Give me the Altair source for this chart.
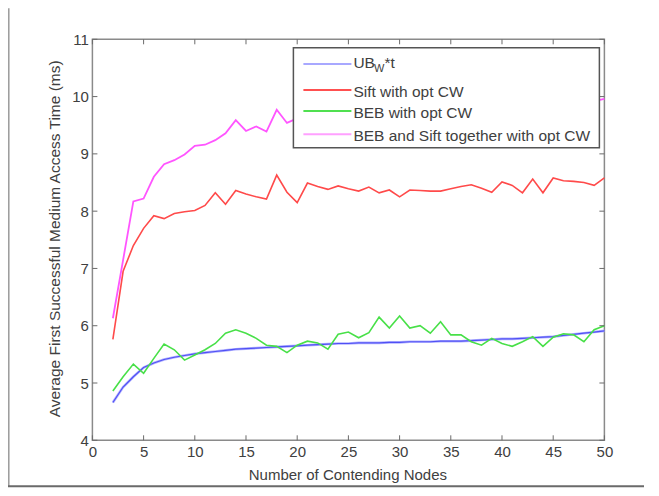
import altair as alt
import pandas as pd

# ---------------- data ----------------
nodes = list(range(2, 51))

ub_wt = [4.66, 4.93, 5.11, 5.27, 5.35, 5.41, 5.45, 5.48, 5.51, 5.53,
         5.55, 5.57, 5.59, 5.60, 5.61, 5.62, 5.63, 5.64, 5.65, 5.66,
         5.67, 5.68, 5.69, 5.69, 5.70, 5.70, 5.70, 5.71, 5.71, 5.72,
         5.72, 5.72, 5.73, 5.73, 5.73, 5.74, 5.75, 5.76, 5.77, 5.77,
         5.78, 5.79, 5.80, 5.81, 5.83, 5.85, 5.87, 5.89, 5.91]

sift = [5.76, 6.95, 7.40, 7.70, 7.92, 7.87, 7.96, 7.99, 8.01, 8.10,
        8.32, 8.12, 8.36, 8.30, 8.25, 8.21, 8.63, 8.33, 8.15, 8.49,
        8.43, 8.38, 8.44, 8.39, 8.35, 8.42, 8.32, 8.37, 8.25, 8.37,
        8.36, 8.35, 8.35, 8.39, 8.43, 8.46, 8.40, 8.33, 8.51, 8.45,
        8.32, 8.56, 8.32, 8.58, 8.53, 8.52, 8.50, 8.45, 8.58]

beb = [4.86, 5.11, 5.33, 5.17, 5.43, 5.68, 5.58, 5.40, 5.49, 5.58,
       5.69, 5.87, 5.93, 5.87, 5.78, 5.66, 5.64, 5.53, 5.66, 5.73,
       5.70, 5.59, 5.85, 5.89, 5.79, 5.88, 6.15, 5.96, 6.17, 5.96,
       6.00, 5.87, 6.07, 5.84, 5.84, 5.72, 5.66, 5.78, 5.69, 5.64,
       5.72, 5.81, 5.64, 5.80, 5.86, 5.84, 5.72, 5.93, 6.00]

beb_sift = [6.13, 7.15, 8.17, 8.22, 8.60, 8.82, 8.89, 8.99, 9.14, 9.16,
            9.24, 9.36, 9.59, 9.40, 9.48, 9.39, 9.77, 9.54, 9.62, 9.68,
            9.60, 9.72, 9.65, 9.70, 9.75, 9.68, 9.80, 9.72, 9.78, 9.70,
            9.82, 9.75, 9.80, 9.85, 9.78, 9.82, 9.88, 9.80, 9.85, 9.90,
            9.83, 9.88, 9.92, 9.85, 9.90, 9.93, 9.88, 9.92, 9.96]

x_ticks = list(range(0, 51, 5))
y_ticks = list(range(4, 12))

legend_labels = ["Sift with opt CW", "BEB with opt CW",
                 "BEB and Sift together with opt CW"]

# ---------------- styling ----------------
W, H = 512, 401
FONT = "Liberation Sans"
TXT = "#404040"
TICK = "#6a6a6a"

xs = alt.Scale(domain=[0, 50], nice=False, zero=False)
ys = alt.Scale(domain=[4, 11], nice=False, zero=False)
one = pd.DataFrame({"a": [0]})

x_axis = alt.Axis(values=x_ticks, title="Number of Contending Nodes",
                  labelPadding=4, titleX=255, titleY=39.5,
                  titleBaseline="alphabetic", titleAlign="center")
y_axis = alt.Axis(values=y_ticks,
                  title="Average First Successful Medium Access Time (ms)",
                  labelPadding=4, titleX=-38, titleY=199,
                  titleAngle=270, titleBaseline="middle",
                  titleAlign="center", titleFontSize=15.5)


def X():
    return alt.X("nodes:Q", scale=xs, axis=x_axis)


def Y():
    return alt.Y("value:Q", scale=ys, axis=y_axis)


def sdf(vals):
    return pd.DataFrame({"nodes": nodes, "value": vals})


def line_layer(vals, color, width):
    return alt.Chart(sdf(vals)).mark_line(color=color, strokeWidth=width).encode(x=X(), y=Y())


layers = []
# UB_W*t : light halo + darker core
layers.append(line_layer(ub_wt, "#b4b4ff", 2.6))
layers.append(line_layer(ub_wt, "#5050f5", 1.2))
layers.append(line_layer(sift, "#ff4a4a", 1.6))
layers.append(line_layer(beb, "#48e048", 1.6))
layers.append(line_layer(beb_sift, "#ff55ff", 1.8))

# inward ticks (MATLAB style) on all four sides
xt = pd.DataFrame({"nodes": x_ticks})
yt = pd.DataFrame({"value": y_ticks})
for y0, y1 in [(H, H - 5), (0, 5)]:
    layers.append(alt.Chart(xt).mark_rule(color=TICK, strokeWidth=1).encode(
        x=X(), y=alt.value(y0), y2=alt.value(y1)))
for x0, x1 in [(0, 5), (W, W - 5)]:
    layers.append(alt.Chart(yt).mark_rule(color=TICK, strokeWidth=1).encode(
        y=Y(), x=alt.value(x0), x2=alt.value(x1)))

# legend box
layers.append(alt.Chart(one).mark_rect(fill="white", stroke="#555555", strokeWidth=1.5).encode(
    x=alt.value(201), x2=alt.value(507), y=alt.value(8.5), y2=alt.value(108.5)))

sym_colors = ["#a8a8ff", "#ff5050", "#50e050", "#ffa0ff"]
row_y = [24.7, 50.7, 71.7, 95.0]
for c, yy in zip(sym_colors, row_y):
    layers.append(alt.Chart(one).mark_rule(color=c, strokeWidth=2).encode(
        x=alt.value(211), x2=alt.value(259), y=alt.value(yy)))

# first legend label with subscript: UB_W*t
layers.append(alt.Chart(one).mark_text(align="left", baseline="middle", font=FONT,
                                       fontSize=15.5, color=TXT).encode(
    x=alt.value(261), y=alt.value(23.5), text=alt.value("UB")))
layers.append(alt.Chart(one).mark_text(align="left", baseline="middle", font=FONT,
                                       fontSize=11, color=TXT).encode(
    x=alt.value(281.5), y=alt.value(30), text=alt.value("W")))
layers.append(alt.Chart(one).mark_text(align="left", baseline="middle", font=FONT,
                                       fontSize=15.5, color=TXT).encode(
    x=alt.value(292), y=alt.value(23.5), text=alt.value("*t")))
for lab, yy in zip(legend_labels, row_y[1:]):
    layers.append(alt.Chart(one).mark_text(align="left", baseline="middle", font=FONT,
                                           fontSize=15.5, color=TXT).encode(
        x=alt.value(261), y=alt.value(yy + 1.5), text=alt.value(lab)))

# outer figure frame (left and bottom edges)
layers.append(alt.Chart(one).mark_rule(color="#9a9a9a", strokeWidth=1.5).encode(
    x=alt.value(-83.6), y=alt.value(-31), y2=alt.value(447.5)))
layers.append(alt.Chart(one).mark_rule(color="#6a6a6a", strokeWidth=2).encode(
    x=alt.value(-84.4), x2=alt.value(560), y=alt.value(447)))

chart = alt.layer(*layers).properties(
    width=W, height=H,
    padding={"left": 84.4, "top": 31.3, "right": 40, "bottom": 47.7},
    autosize=alt.AutoSizeParams(type="none"),
    background="white",
).configure_view(
    stroke="#8a8a8a", strokeWidth=1.5
).configure_axis(
    grid=False, domain=False, ticks=False, tickSize=0,
    labelFont=FONT, labelFontSize=15, labelColor=TXT,
    titleFont=FONT, titleFontSize=15, titleColor=TXT, titleFontWeight="normal",
    labelFlush=False, labelOverlap=False,
)

chart.save("out.html", embed_options={"renderer": "svg", "actions": False})
